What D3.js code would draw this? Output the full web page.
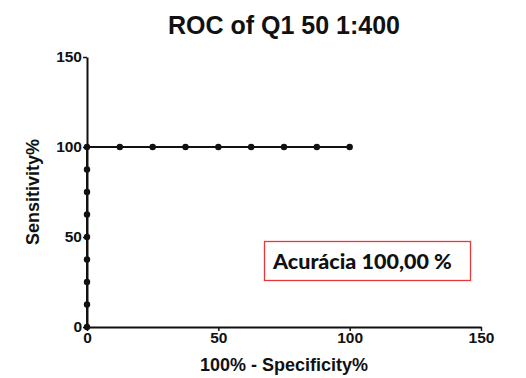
<!DOCTYPE html>
<html>
<head>
<meta charset="utf-8">
<script src="https://cdn.jsdelivr.net/npm/d3@7"></script>
<style>
  html, body { margin: 0; padding: 0; background: #fff; }
  svg { display: block; }
</style>
</head>
<body>
<svg id="chart" width="526" height="378"></svg>
<script>
// ROC curve points: 100% - specificity (x) and sensitivity (y)
const fprValues = [0, 0, 0, 0, 0, 0, 0, 0, 0, 12.5, 25, 37.5, 50, 62.5, 75, 87.5, 100];
const tprValues = [0, 12.5, 25, 37.5, 50, 62.5, 75, 87.5, 100, 100, 100, 100, 100, 100, 100, 100, 100];
const xTicks = [0, 50, 100, 150];
const yTicks = [0, 50, 100, 150];
const chartTitle = "ROC of Q1 50 1:400";
const xTitle = "100% - Specificity%";
const yTitle = "Sensitivity%";
const accuracyLabel = "Acurácia 100,00 %";

const svg = d3.select("#chart");
const font = "'Liberation Sans', Arial, sans-serif";

const x = d3.scaleLinear().domain([0, 150]).range([87, 481]);
const y = d3.scaleLinear().domain([0, 150]).range([327, 57]);

// Title
svg.append("text")
  .attr("x", 284).attr("y", 34)
  .attr("text-anchor", "middle")
  .attr("font-family", font).attr("font-weight", "bold").attr("font-size", 25)
  .attr("fill", "#111")
  .text(chartTitle);

// Axes
const xAxis = svg.append("g")
  .attr("transform", `translate(0,${y(0)})`)
  .call(d3.axisBottom(x).tickValues(xTicks).tickSize(4).tickPadding(1).tickSizeOuter(0));
const yAxis = svg.append("g")
  .attr("transform", `translate(${x(0)},0)`)
  .call(d3.axisLeft(y).tickValues(yTicks).tickSize(4).tickPadding(1).tickSizeOuter(0));

[xAxis, yAxis].forEach(g => {
  g.select(".domain").attr("stroke", "#111").attr("stroke-width", 2);
  g.selectAll(".tick line").attr("stroke", "#111").attr("stroke-width", 1.5);
  g.selectAll(".tick text")
    .attr("font-family", font).attr("font-weight", "bold").attr("font-size", 15.5)
    .attr("fill", "#111");
});

// Axis titles
svg.append("text")
  .attr("x", x(75)).attr("y", 371)
  .attr("text-anchor", "middle")
  .attr("font-family", font).attr("font-weight", "bold").attr("font-size", 18)
  .attr("fill", "#111")
  .text(xTitle);
svg.append("text")
  .attr("transform", `translate(39,${y(75)}) rotate(-90)`)
  .attr("text-anchor", "middle")
  .attr("font-family", font).attr("font-weight", "bold").attr("font-size", 18)
  .attr("fill", "#111")
  .text(yTitle);

// ROC line and points
const pts = fprValues.map((v, i) => [v, tprValues[i]]);
svg.append("path")
  .datum(pts)
  .attr("fill", "none").attr("stroke", "#111").attr("stroke-width", 2)
  .attr("d", d3.line().x(d => x(d[0])).y(d => y(d[1])));
svg.append("g").selectAll("circle")
  .data(pts)
  .join("circle")
  .attr("cx", d => x(d[0])).attr("cy", d => y(d[1]))
  .attr("r", 3.2).attr("fill", "#111");

// Accuracy annotation box
const box = svg.append("g");
box.append("rect")
  .attr("x", 264.5).attr("y", 241.5).attr("width", 206).attr("height", 39)
  .attr("fill", "#fff").attr("stroke", "#e8383c").attr("stroke-width", 1.3);
box.append("text")
  .attr("x", 273).attr("y", 269)
  .attr("font-family", "Lato, 'Open Sans', sans-serif").attr("font-weight", 900).attr("font-size", 21.5)
  .attr("fill", "#111")
  .text(accuracyLabel);
</script>
</body>
</html>
